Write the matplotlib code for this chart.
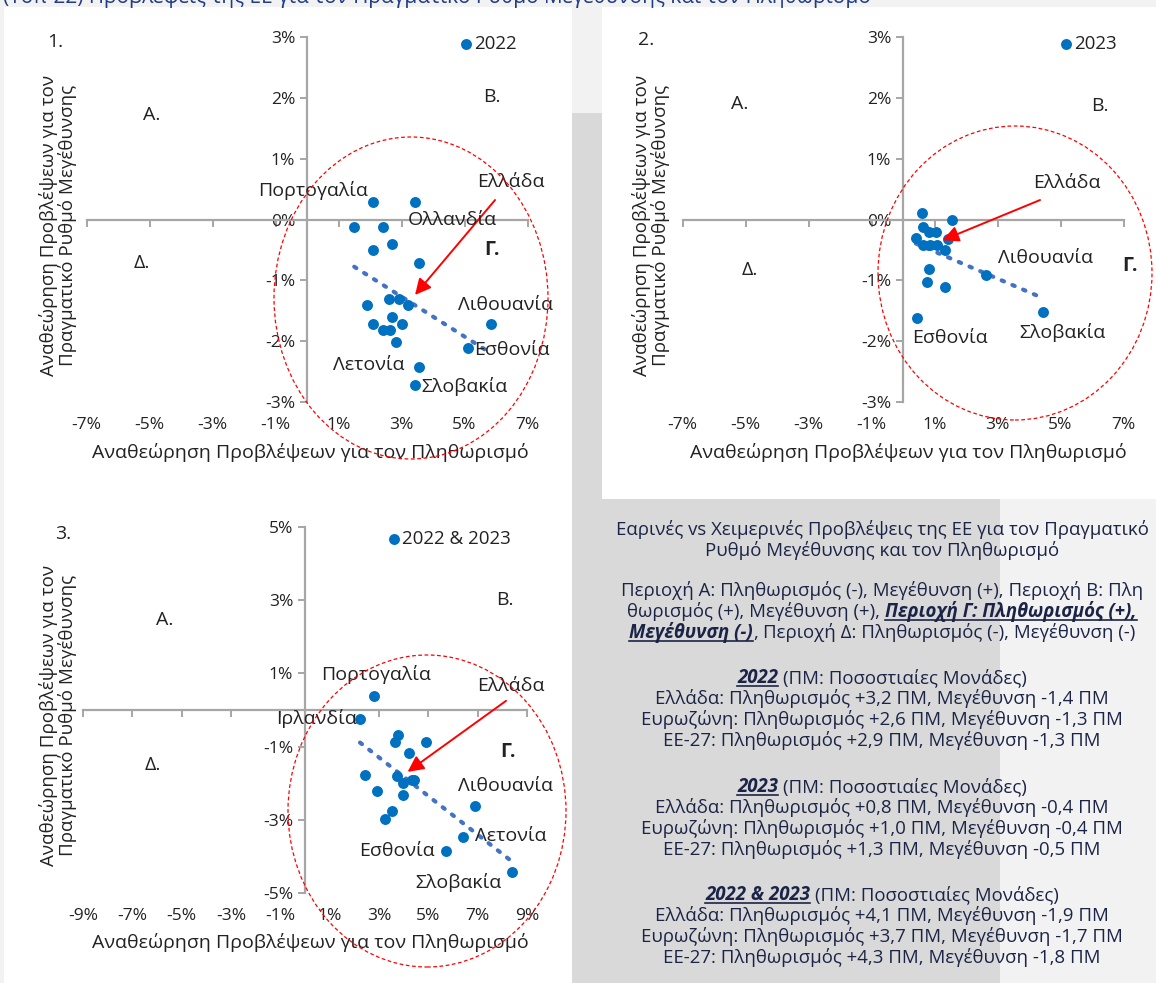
import numpy as np
import matplotlib
matplotlib.use('Agg')
import matplotlib.pyplot as plt
from matplotlib.patches import Rectangle, Ellipse
from matplotlib.lines import Line2D
from matplotlib.transforms import blended_transform_factory

plt.rcParams['font.family'] = ['Open Sans', 'DejaVu Sans']

W, H = 1156, 983

# ---- data (percentage points) ----
p1_x = [2.10, 3.43, 1.50, 2.42, 2.71, 2.10, 3.54, 2.60, 2.92, 3.22, 1.89,
        2.71, 2.10, 3.03, 2.42, 2.63, 2.81, 5.84, 5.12, 3.54, 3.43]
p1_y = [0.29, 0.29, -0.12, -0.12, -0.41, -0.50, -0.72, -1.31, -1.31, -1.40, -1.40,
        -1.61, -1.71, -1.71, -1.81, -1.81, -2.01, -1.71, -2.11, -2.42, -2.72]

p2_x = [0.61, 1.55, 0.62, 0.84, 1.05, 0.41, 1.44, 0.65, 0.86, 1.07, 1.33,
        0.84, 0.75, 1.34, 2.63, 4.45, 0.43]
p2_y = [0.10, 0.00, -0.12, -0.20, -0.20, -0.31, -0.32, -0.42, -0.42, -0.42, -0.50,
        -0.82, -1.02, -1.11, -0.91, -1.52, -1.62]

p3_x = [2.81, 2.23, 3.76, 3.65, 4.89, 4.23, 2.43, 3.74, 3.98, 4.32, 4.43,
        2.93, 3.98, 3.54, 3.24, 6.89, 6.42, 5.70, 8.38]
p3_y = [0.37, -0.25, -0.68, -0.88, -0.88, -1.17, -1.78, -1.81, -1.99, -1.92, -1.90,
        -2.22, -2.31, -2.77, -2.99, -2.63, -3.47, -3.86, -4.43]

xticks_12 = [-7, -5, -3, -1, 1, 3, 5, 7]
yticks_12 = [-3, -2, -1, 0, 1, 2, 3]
xticks_3 = [-9, -7, -5, -3, -1, 1, 3, 5, 7, 9]
yticks_3 = [-5, -3, -1, 1, 3, 5]

series_labels = ['2022', '2023', '2022 & 2023']

BLUE = '#0070c0'
TREND = '#4472c4'
AXC = '#a6a6a6'
TXT = '#222222'
NAVY = '#1b2447'

xlab = 'Αναθεώρηση Προβλέψεων για τον Πληθωρισμό'
ylab = 'Αναθεώρηση Προβλέψεων για τον\nΠραγματικό Ρυθμό Μεγέθυνσης'

fig = plt.figure(figsize=(W / 100, H / 100), dpi=100)
fig.patch.set_facecolor('#f2f2f2')


def fx(px):
    return px / W


def fy(py):
    return 1 - py / H


def rect(x0, y0, x1, y1, color):
    fig.add_artist(Rectangle((fx(x0), fy(y1)), fx(x1) - fx(x0), fy(y0) - fy(y1),
                             transform=fig.transFigure, facecolor=color,
                             edgecolor='none', zorder=-10))


# background blocks
rect(4, 7, 572, 983, 'white')
rect(572, 113, 1000, 983, '#d9d9d9')
rect(602, 7, 1156, 499, 'white')

# page title, cut by the top edge as in the source
fig.text(0.003, fy(3), '(Τοπ-22) Προβλέψεις της ΕΕ για τον Πραγματικό Ρυθμό Μεγέθυνσης και τον Πληθωρισμό',
         fontsize=15, color='#1f3c88', ha='left', va='baseline')


def panel(box, xs, ys, xlim, ylim, xticks, yticks, label):
    x0, y0, x1, y1 = box
    ax = fig.add_axes([fx(x0), fy(y1), fx(x1) - fx(x0), fy(y0) - fy(y1)])
    ax.set_facecolor('none')
    ax.set_xlim(*xlim)
    ax.set_ylim(*ylim)
    for s in ['top', 'right']:
        ax.spines[s].set_visible(False)
    ax.spines['left'].set_position(('data', 0))
    ax.spines['bottom'].set_position(('data', 0))
    for s in ['left', 'bottom']:
        ax.spines[s].set_color(AXC)
        ax.spines[s].set_linewidth(1.6)
    ax.set_xticks(xticks)
    ax.set_yticks(yticks)
    ax.set_yticklabels([f'{v}%' for v in yticks])
    ax.tick_params(axis='both', direction='out', length=5, width=1.4, color=AXC,
                   labelsize=12.5, labelcolor=TXT)
    ax.tick_params(axis='x', labelbottom=False)
    tr = blended_transform_factory(ax.transData, ax.transAxes)
    for v in xticks:
        ax.text(v, -0.063, f'{v}%', transform=tr, ha='center', va='center',
                fontsize=12.5, color=TXT)

    ax.scatter(xs, ys, s=62, color=BLUE, zorder=3, label=label, linewidths=0)
    k, b = np.polyfit(xs, ys, 1)
    tx = np.array([min(xs), max(xs)])
    ax.plot(tx, k * tx + b, linestyle=(0, (0.6, 2.2)), color=TREND, lw=3,
            dash_capstyle='round', zorder=2)
    return ax


def lbl(ax, x, y, s, **kw):
    kw.setdefault('fontsize', 14)
    kw.setdefault('color', TXT)
    ax.text(x, y, s, transform=fig.transFigure, ha='center', va='center', **kw)


def legend(ax, px, py):
    ax.legend(loc='center left', bbox_to_anchor=(fx(px), fy(py)),
              bbox_transform=fig.transFigure, frameon=False, handletextpad=0.05,
              handlelength=0.8, borderpad=0, fontsize=13.5, labelcolor=TXT)


def arrow(ax, tail, tip):
    ax.annotate('', xy=tip, xytext=tail,
                arrowprops=dict(arrowstyle='-|>', color='red', lw=1.4,
                                mutation_scale=24, shrinkA=0, shrinkB=0))


def ring(cx, cy, w, h):
    fig.add_artist(Ellipse((fx(cx), fy(cy)), w / W, h / H, transform=fig.transFigure,
                           fill=False, edgecolor='red', linestyle=(0, (3, 2)), lw=0.9,
                           zorder=5))


def axis_titles(xc, xy, yc, yy):
    fig.text(fx(xc), fy(xy), xlab, ha='center', va='center', fontsize=14, color=TXT)
    fig.text(fx(yc), fy(yy), ylab, ha='center', va='center', fontsize=13.5, color=TXT,
             rotation=90, linespacing=1.0)


# ---- panel 1 ----
ax1 = panel((86.5, 37, 527.5, 402), p1_x, p1_y, (-7, 7), (-3, 3), xticks_12, yticks_12,
            series_labels[0])
legend(ax1, 449, 44)
arrow(ax1, (5.97, 0.32), (3.43, -1.24))
ring(411, 298, 274, 322)
for (x, y, s) in [(313, 190, 'Πορτογαλία'), (452, 220, 'Ολλανδία'), (511, 182, 'Ελλάδα'),
                  (505, 305, 'Λιθουανία'), (512, 350, 'Εσθονία'), (369, 365, 'Λετονία'),
                  (464, 387, 'Σλοβακία'), (152, 115, 'Α.'), (492, 97, 'Β.'), (142, 263, 'Δ.')]:
    lbl(ax1, fx(x), fy(y), s)
lbl(ax1, fx(492), fy(250), 'Γ.', fontweight='bold')
lbl(ax1, fx(55), fy(42), '1.')
axis_titles(310, 452, 58, 225)

# ---- panel 2 ----
ax2 = panel((682.5, 37, 1123.5, 402), p2_x, p2_y, (-7, 7), (-3, 3), xticks_12, yticks_12,
            series_labels[1])
legend(ax2, 1049, 44)
arrow(ax2, (4.35, 0.32), (1.26, -0.34))
ring(1015, 273, 274, 294)
for (x, y, s) in [(1067, 183, 'Ελλάδα'), (1045, 258, 'Λιθουανία'), (1062, 332, 'Σλοβακία'),
                  (950, 338, 'Εσθονία'), (740, 104, 'Α.'), (1100, 106, 'Β.'), (750, 270, 'Δ.')]:
    lbl(ax2, fx(x), fy(y), s)
lbl(ax2, fx(1130), fy(266), 'Γ.', fontweight='bold')
lbl(ax2, fx(646), fy(40), '2.')
axis_titles(908, 452, 651, 225)

# ---- panel 3 ----
ax3 = panel((83, 527, 527, 893), p3_x, p3_y, (-9, 9), (-5, 5), xticks_3, yticks_3,
            series_labels[2])
legend(ax3, 377, 539)
arrow(ax3, (8.15, 0.25), (4.16, -1.69))
ring(427, 811, 278, 312)
for (x, y, s) in [(376, 674, 'Πορτογαλία'), (316, 718, 'Ιρλανδία'), (511, 686, 'Ελλάδα'),
                  (505, 786, 'Λιθουανία'), (511, 836, 'Λετονία'), (397, 851, 'Εσθονία'),
                  (459, 882, 'Σλοβακία'), (165, 620, 'Α.'), (505, 600, 'Β.'), (153, 765, 'Δ.')]:
    lbl(ax3, fx(x), fy(y), s)
lbl(ax3, fx(508), fy(752), 'Γ.', fontweight='bold')
lbl(ax3, fx(63), fy(534), '3.')
axis_titles(310, 943, 58, 715)

# ---- text box with mixed styles ----
renderer = fig.canvas.get_renderer()
BSIZE = 13.4


def width_of(s, **kw):
    t = fig.text(0, 0, s, fontsize=BSIZE, **kw)
    w = t.get_window_extent(renderer).width
    t.remove()
    return w


SPACE = width_of('a a') - width_of('aa')
N = dict()
BI = dict(fontweight='bold', fontstyle='italic')


def rich_line(segs, xc, py):
    # segs: list of (text, style dict, underline, space_before)
    widths = [width_of(s, **st) for s, st, _, _ in segs]
    total = sum(widths) + SPACE * sum(1 for seg in segs if seg[3])
    x = xc - total / 2
    for (s, st, ul, sp), w in zip(segs, widths):
        if sp:
            x += SPACE
        fig.text(fx(x), fy(py), s, fontsize=BSIZE, color=NAVY, ha='left', va='baseline', **st)
        if ul:
            fig.add_artist(Line2D([fx(x), fx(x + w)], [fy(py + 3), fy(py + 3)],
                                  transform=fig.transFigure, color=NAVY, lw=1.2))
        x += w


XC = 882
rich_line([('Εαρινές vs Χειμερινές Προβλέψεις της ΕΕ για τον Πραγματικό', N, False, False)], XC, 535)
rich_line([('Ρυθμό Μεγέθυνσης και τον Πληθωρισμό', N, False, False)], XC, 556)
rich_line([('Περιοχή Α: Πληθωρισμός (-), Μεγέθυνση (+), Περιοχή Β: Πλη', N, False, False)], XC, 596)
rich_line([('θωρισμός (+), Μεγέθυνση (+),', N, False, False),
           ('Περιοχή Γ: Πληθωρισμός (+),', BI, True, True)], XC, 617)
rich_line([('Μεγέθυνση (-)', BI, True, False), (',', N, False, False),
           ('Περιοχή Δ: Πληθωρισμός (-), Μεγέθυνση (-)', N, False, True)], XC, 638)

blocks = [
    (series_labels[0], 683, ['Ελλάδα: Πληθωρισμός +3,2 ΠΜ, Μεγέθυνση -1,4 ΠΜ',
                             'Ευρωζώνη: Πληθωρισμός +2,6 ΠΜ, Μεγέθυνση -1,3 ΠΜ',
                             'ΕΕ-27: Πληθωρισμός +2,9 ΠΜ, Μεγέθυνση -1,3 ΠΜ']),
    (series_labels[1], 792, ['Ελλάδα: Πληθωρισμός +0,8 ΠΜ, Μεγέθυνση -0,4 ΠΜ',
                             'Ευρωζώνη: Πληθωρισμός +1,0 ΠΜ, Μεγέθυνση -0,4 ΠΜ',
                             'ΕΕ-27: Πληθωρισμός +1,3 ΠΜ, Μεγέθυνση -0,5 ΠΜ']),
    (series_labels[2], 900, ['Ελλάδα: Πληθωρισμός +4,1 ΠΜ, Μεγέθυνση -1,9 ΠΜ',
                             'Ευρωζώνη: Πληθωρισμός +3,7 ΠΜ, Μεγέθυνση -1,7 ΠΜ',
                             'ΕΕ-27: Πληθωρισμός +4,3 ΠΜ, Μεγέθυνση -1,8 ΠΜ']),
]
for head, py, lines in blocks:
    rich_line([(head, BI, True, False), ('(ΠΜ: Ποσοστιαίες Μονάδες)', N, False, True)], XC, py)
    for i, s in enumerate(lines):
        rich_line([(s, N, False, False)], XC, py + 21 * (i + 1))

fig.savefig('out.png', dpi=100, facecolor=fig.get_facecolor())
